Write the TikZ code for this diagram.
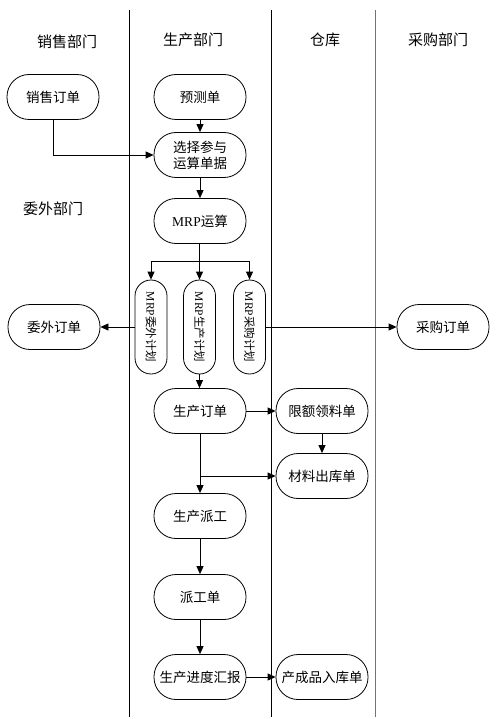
\documentclass[tikz,border=0pt]{standalone}
\usepackage{fontspec}
\setmainfont{Liberation Serif}
\newfontfamily\cjk{Noto Sans CJK SC}
\usetikzlibrary{arrows.meta,positioning}
\tikzset{
  box/.style={draw,line width=.8pt,rounded corners=22pt,minimum width=92pt,
    minimum height=45pt,inner sep=2pt,align=center,
    font=\cjk\fontsize{13.5}{16}\selectfont},
  vbox/.style={draw,line width=.8pt,rounded corners=16pt,minimum width=32pt,
    minimum height=94pt,inner sep=0pt,font=\cjk\fontsize{11.5}{14}\selectfont},
  head/.style={font=\cjk\fontsize{15}{18}\selectfont},
  lane/.style={line width=.8pt},
  arr/.style={line width=.8pt,-{Triangle[length=8pt,width=7pt]}}
}
\newcommand{\mrp}{{\rmfamily MRP}}
\begin{document}
\begin{tikzpicture}[x=1pt,y=-1pt]
  \useasboundingbox (0,0) rectangle (499,719);
  % swim lanes
  \draw[lane] (129,10) -- (129,717);
  \draw[lane] (271,10) -- (271,717);
  \draw[lane,black!55] (375,10) -- (375,717);
  \node[head] (hsale) at (67,42) {销售部门};
  \node[head] (hprod) at (193,40) {生产部门};
  \node[head] (hstore) at (325,40) {仓库};
  \node[head] (hbuy) at (438,40) {采购部门};
  \node[head] (hout) at (53,209) {委外部门};
  % documents
  \node[box] (saleorder) at (53,97) {销售订单};
  \node[box] (forecast) at (200,97) {预测单};
  \node[box] (select) at (200,155) {选择参与\\运算单据};
  \node[box] (mrprun) at (200,221) {\mrp 运算};
  \node[vbox] (outplan) at (151,327) {\rotatebox{-90}{\mrp 委外计划}};
  \node[vbox] (prodplan) at (199.5,327) {\rotatebox{-90}{\mrp 生产计划}};
  \node[vbox] (buyplan) at (249.5,327) {\rotatebox{-90}{\mrp 采购计划}};
  \node[box] (outorder) at (54,327) {委外订单};
  \node[box] (buyorder) at (443,327) {采购订单};
  \node[box] (prodorder) at (200,411) {生产订单};
  \node[box] (quota) at (322,411) {限额领料单};
  \node[box] (issue) at (322,476) {材料出库单};
  \node[box] (dispatch) at (200,516) {生产派工};
  \node[box] (ticket) at (200,597) {派工单};
  \node[box] (report) at (200,677) {生产进度汇报};
  \node[box] (finished) at (322,677) {产成品入库单};
  \coordinate (split) at (199.5,261);
  \coordinate (branch) at (prodorder.south |- issue.west);
  % connectors
  \draw[arr] (saleorder.south) |- (select.west);
  \draw[arr] (forecast) -- (select);
  \draw[arr] (select) -- (mrprun);
  \draw[line width=.8pt] (mrprun.south -| split) -- (split);
  \draw[arr] (split) -| (outplan.north);
  \draw[arr] (split) -- (prodplan.north);
  \draw[arr] (split) -| (buyplan.north);
  \draw[arr] (outplan) -- (outorder);
  \draw[arr] (buyplan) -- (buyorder);
  \draw[arr] (prodplan.south) -- (prodorder.north -| prodplan.south);
  \draw[arr] (prodorder) -- (quota);
  \draw[arr] (quota) -- (issue);
  \draw[arr] (prodorder) -- (dispatch);
  \draw[arr] (branch) -- (issue.west);
  \draw[arr] (dispatch) -- (ticket);
  \draw[arr] (ticket) -- (report);
  \draw[arr] (report) -- (finished);
\end{tikzpicture}
\end{document}
